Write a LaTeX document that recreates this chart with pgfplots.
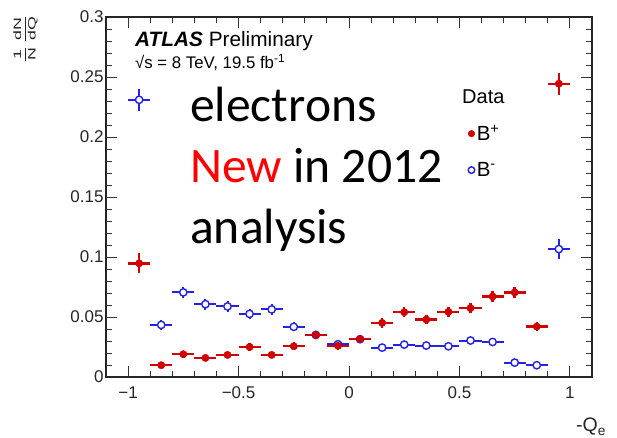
\documentclass[border=0pt]{standalone}
\usepackage{pgfplots}
\pgfplotsset{compat=1.18}
\usepackage{pgfplotstable}
\usepackage{amsmath}
\usepackage{graphicx}
\usepackage{fontspec}
\setmainfont{Liberation Sans}
\newfontfamily\calibri{Carlito}

\definecolor{bplus}{RGB}{208,0,0}
\definecolor{bminus}{RGB}{35,35,225}
\definecolor{newred}{RGB}{255,0,0}

% charge-signed distributions: bin centre, value, half bin width, stat. error
\pgfplotstableread{
x     y       ex    ey
-0.95 0.0947  0.05  0.0083
-0.85 0.0098  0.05  0.0020
-0.75 0.0190  0.05  0.0028
-0.65 0.0159  0.05  0.0026
-0.55 0.0184  0.05  0.0028
-0.45 0.0250  0.05  0.0032
-0.35 0.0184  0.05  0.0028
-0.25 0.0256  0.05  0.0032
-0.15 0.0350  0.05  0.0036
-0.05 0.0260  0.05  0.0032
0.05  0.0317  0.05  0.0034
0.15  0.0451  0.05  0.0040
0.25  0.0540  0.05  0.0043
0.35  0.0479  0.05  0.0041
0.45  0.0543  0.05  0.0043
0.55  0.0574  0.05  0.0044
0.65  0.0671  0.05  0.0047
0.75  0.0705  0.05  0.0048
0.85  0.0420  0.05  0.0037
0.95  0.2444  0.05  0.0090
}\bplusdata

\pgfplotstableread{
x     y       ex    ey
-0.95 0.2310  0.05  0.0090
-0.85 0.0434  0.05  0.0039
-0.75 0.0705  0.05  0.0048
-0.65 0.0607  0.05  0.0045
-0.55 0.0588  0.05  0.0045
-0.45 0.0526  0.05  0.0043
-0.35 0.0563  0.05  0.0044
-0.25 0.0418  0.05  0.0038
-0.15 0.0351  0.05  0.0035
-0.05 0.0273  0.05  0.0031
0.05  0.0315  0.05  0.0033
0.15  0.0245  0.05  0.0029
0.25  0.0270  0.05  0.0031
0.35  0.0262  0.05  0.0030
0.45  0.0256  0.05  0.0030
0.55  0.0304  0.05  0.0033
0.65  0.0292  0.05  0.0032
0.75  0.0120  0.05  0.0021
0.85  0.0098  0.05  0.0019
0.95  0.1066  0.05  0.0083
}\bminusdata

\begin{document}
\begin{tikzpicture}
\path[use as bounding box] (0pt,0pt) rectangle (617pt,438pt);
\begin{axis}[
  at={(106pt,61pt)}, anchor=south west,
  scale only axis, width=486pt, height=360pt,
  xmin=-1.1, xmax=1.1, ymin=0, ymax=0.3,
  axis line style={line width=1.2pt, black!85},
  every tick/.style={line width=0.9pt, black!80},
  tick align=inside,
  major tick length=11pt, minor tick length=6pt,
  xtick={-1,-0.5,0,0.5,1},
  xticklabels={−1,−0.5,0,0.5,1},
  minor x tick num=4,
  ytick={0,0.05,0.1,0.15,0.2,0.25,0.3},
  yticklabels={0,0.05,0.1,0.15,0.2,0.25,0.3},
  minor y tick num=4,
  xtick pos=both, ytick pos=both,
  ticklabel style={font=\fontsize{17}{20}\selectfont, text=black!85},
  xticklabel style={yshift=-6pt},
  yticklabel style={xshift=1pt},
  reverse legend,
  legend style={draw=none, fill=none, at={(axis cs:0.525,0.2135)}, anchor=north west,
    font=\fontsize{20.5}{24}\selectfont, row sep=16pt,
    /tikz/every even column/.append style={column sep=8.5pt}},
  legend image code/.code={\draw[#1, mark size=3.3pt] plot coordinates {(0.2em,0pt)};},
  legend cell align=left,
  error bars/error bar style={line width=2.2pt},
  error bars/error mark=none,
]
\addplot[only marks, color=bminus, mark=*, mark size=3.7pt,
  mark options={fill=white, draw=bminus, line width=1.4pt},
  error bars/.cd, x dir=both, x explicit, y dir=both, y explicit,
  error bar style={line width=2pt, bminus}]
  table[x=x, y=y, x error=ex, y error=ey] {\bminusdata};
\addlegendentry{B\textsuperscript{-}}
\addplot[only marks, color=bplus, mark=*, mark size=3.7pt,
  mark options={fill=bplus, draw=bplus},
  error bars/.cd, x dir=both, x explicit, y dir=both, y explicit,
  error bar style={line width=2.4pt, bplus}]
  table[x=x, y=y, x error=ex, y error=ey] {\bplusdata};
\addlegendentry{B\textsuperscript{+}}
\end{axis}

% experiment labels
\node[anchor=base west, inner sep=0pt, font=\fontsize{20.8}{24}\selectfont]
  at (135pt,391.3pt) {\textbf{\textit{ATLAS}} Preliminary};
\node[anchor=base west, inner sep=0pt, font=\fontsize{16.8}{20}\selectfont]
  at (135pt,369.7pt) {√s = 8 TeV, 19.5 fb\textsuperscript{-1}};
\node[anchor=base west, inner sep=0pt, font=\fontsize{20}{24}\selectfont]
  at (462pt,334.7pt) {Data};

% annotation
\node[anchor=base west, inner sep=0pt, font=\calibri\fontsize{49.6}{60}\selectfont]
  at (190pt,316.3pt) {electrons};
\node[anchor=base west, inner sep=0pt, font=\calibri\fontsize{49.6}{60}\selectfont]
  at (190pt,255.7pt) {\textcolor{newred}{New} in 2012};
\node[anchor=base west, inner sep=0pt, font=\calibri\fontsize{49.6}{60}\selectfont]
  at (190pt,194.7pt) {analysis};

% axis titles
\node[rotate=90, inner sep=0pt, text=black!85]
  at (25.5pt,399pt) {\resizebox{48pt}{15pt}{$\dfrac{\text{1}}{\text{N}}\,\dfrac{\text{dN}}{\text{dQ}}$}};
\node[anchor=base west, inner sep=0pt, font=\fontsize{19.5}{23}\selectfont, text=black!85]
  at (576pt,6pt) {-Q\textsubscript{e}};
\end{tikzpicture}
\end{document}
